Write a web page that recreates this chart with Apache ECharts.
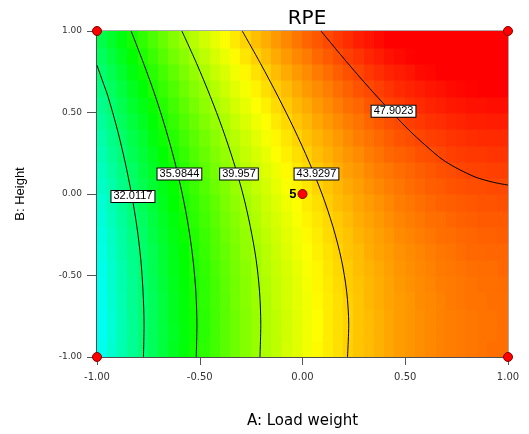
<!DOCTYPE html>
<html>
<head>
<meta charset="utf-8">
<title>RPE</title>
<script src="https://cdn.jsdelivr.net/npm/echarts@6/dist/echarts.min.js"></script>
<style>
  html, body { margin: 0; padding: 0; background: #fff; }
  #chart { width: 529px; height: 434px; }
</style>
</head>
<body>
<div id="chart"></div>
<script>
// cell centres of the response grid (coded units)
const aCells = Array.from({length: 40}, (_, i) => -0.975 + 0.05 * i);
const bCells = Array.from({length: 20}, (_, i) => -0.95 + 0.1 * i);

// RPE, one row per B cell, bottom row first
const rpeGrid = [
  [28.5,29.4,30.3,31.1,32.0,32.8,33.6,34.4,35.1,35.9,36.6,37.2,37.9,38.5,39.1,39.7,40.3,40.8,41.4,41.8,42.3,42.8,43.2,43.6,44.0,44.3,44.6,44.9,45.2,45.5,45.7,45.9,46.1,46.3,46.4,46.5,46.6,46.7,46.8,46.8],
  [28.4,29.3,30.2,31.1,31.9,32.8,33.6,34.3,35.1,35.8,36.5,37.2,37.9,38.5,39.1,39.7,40.3,40.8,41.3,41.8,42.3,42.7,43.2,43.6,43.9,44.3,44.6,44.9,45.2,45.5,45.7,45.9,46.1,46.3,46.4,46.5,46.6,46.7,46.7,46.8],
  [28.4,29.3,30.2,31.1,32.0,32.8,33.6,34.4,35.1,35.8,36.5,37.2,37.9,38.5,39.1,39.7,40.3,40.8,41.3,41.8,42.3,42.7,43.2,43.6,43.9,44.3,44.6,44.9,45.2,45.5,45.7,45.9,46.1,46.3,46.4,46.5,46.6,46.7,46.7,46.8],
  [28.5,29.4,30.3,31.2,32.0,32.8,33.6,34.4,35.1,35.9,36.6,37.3,37.9,38.6,39.2,39.8,40.3,40.9,41.4,41.9,42.3,42.8,43.2,43.6,44.0,44.3,44.7,45.0,45.3,45.5,45.7,46.0,46.1,46.3,46.5,46.6,46.7,46.7,46.8,46.8],
  [28.5,29.5,30.4,31.2,32.1,32.9,33.7,34.5,35.2,35.9,36.6,37.3,38.0,38.6,39.2,39.8,40.4,40.9,41.4,41.9,42.4,42.9,43.3,43.7,44.1,44.4,44.7,45.0,45.3,45.6,45.8,46.0,46.2,46.4,46.5,46.6,46.7,46.8,46.8,46.9],
  [28.6,29.5,30.4,31.3,32.2,33.0,33.8,34.6,35.3,36.0,36.7,37.4,38.1,38.7,39.3,39.9,40.5,41.0,41.5,42.0,42.5,42.9,43.4,43.8,44.1,44.5,44.8,45.1,45.4,45.7,45.9,46.1,46.3,46.5,46.6,46.7,46.8,46.9,46.9,47.0],
  [28.8,29.7,30.6,31.4,32.3,33.1,33.9,34.7,35.4,36.2,36.9,37.6,38.2,38.8,39.5,40.0,40.6,41.1,41.7,42.2,42.6,43.1,43.5,43.9,44.3,44.6,45.0,45.3,45.5,45.8,46.0,46.2,46.4,46.6,46.7,46.9,47.0,47.0,47.1,47.1],
  [28.9,29.8,30.7,31.6,32.4,33.3,34.1,34.8,35.6,36.3,37.0,37.7,38.4,39.0,39.6,40.2,40.8,41.3,41.8,42.3,42.8,43.2,43.7,44.1,44.4,44.8,45.1,45.4,45.7,46.0,46.2,46.4,46.6,46.8,46.9,47.0,47.1,47.2,47.2,47.3],
  [29.1,30.0,30.9,31.8,32.6,33.5,34.3,35.0,35.8,36.5,37.2,37.9,38.6,39.2,39.8,40.4,41.0,41.5,42.0,42.5,43.0,43.4,43.8,44.2,44.6,45.0,45.3,45.6,45.9,46.2,46.4,46.6,46.8,46.9,47.1,47.2,47.3,47.4,47.4,47.4],
  [29.3,30.2,31.1,32.0,32.9,33.7,34.5,35.3,36.0,36.7,37.4,38.1,38.8,39.4,40.0,40.6,41.2,41.7,42.2,42.7,43.2,43.6,44.1,44.5,44.8,45.2,45.5,45.8,46.1,46.4,46.6,46.8,47.0,47.2,47.3,47.4,47.5,47.6,47.6,47.7],
  [29.6,30.5,31.4,32.3,33.1,33.9,34.7,35.5,36.3,37.0,37.7,38.4,39.0,39.7,40.3,40.9,41.4,42.0,42.5,43.0,43.4,43.9,44.3,44.7,45.1,45.4,45.8,46.1,46.4,46.6,46.9,47.1,47.3,47.4,47.6,47.7,47.8,47.8,47.9,47.9],
  [29.9,30.8,31.7,32.5,33.4,34.2,35.0,35.8,36.5,37.3,38.0,38.7,39.3,39.9,40.6,41.1,41.7,42.2,42.8,43.3,43.7,44.2,44.6,45.0,45.4,45.7,46.1,46.4,46.6,46.9,47.1,47.3,47.5,47.7,47.8,48.0,48.1,48.1,48.2,48.2],
  [30.2,31.1,32.0,32.9,33.7,34.5,35.3,36.1,36.8,37.6,38.3,39.0,39.6,40.3,40.9,41.5,42.0,42.6,43.1,43.6,44.0,44.5,44.9,45.3,45.7,46.0,46.4,46.7,47.0,47.2,47.4,47.7,47.8,48.0,48.2,48.3,48.4,48.4,48.5,48.5],
  [30.5,31.4,32.3,33.2,34.0,34.9,35.7,36.4,37.2,37.9,38.6,39.3,40.0,40.6,41.2,41.8,42.4,42.9,43.4,43.9,44.4,44.8,45.2,45.6,46.0,46.4,46.7,47.0,47.3,47.6,47.8,48.0,48.2,48.3,48.5,48.6,48.7,48.8,48.8,48.8],
  [30.9,31.8,32.7,33.6,34.4,35.2,36.0,36.8,37.6,38.3,39.0,39.7,40.3,41.0,41.6,42.2,42.7,43.3,43.8,44.3,44.7,45.2,45.6,46.0,46.4,46.7,47.1,47.4,47.7,47.9,48.2,48.4,48.6,48.7,48.9,49.0,49.1,49.1,49.2,49.2],
  [31.3,32.2,33.1,34.0,34.8,35.6,36.4,37.2,38.0,38.7,39.4,40.1,40.7,41.4,42.0,42.6,43.1,43.7,44.2,44.7,45.1,45.6,46.0,46.4,46.8,47.1,47.5,47.8,48.1,48.3,48.6,48.8,49.0,49.1,49.3,49.4,49.5,49.5,49.6,49.6],
  [31.7,32.6,33.5,34.4,35.2,36.1,36.9,37.6,38.4,39.1,39.8,40.5,41.2,41.8,42.4,43.0,43.6,44.1,44.6,45.1,45.6,46.0,46.4,46.8,47.2,47.6,47.9,48.2,48.5,48.8,49.0,49.2,49.4,49.5,49.7,49.8,49.9,50.0,50.0,50.0],
  [32.2,33.1,34.0,34.9,35.7,36.5,37.3,38.1,38.8,39.6,40.3,41.0,41.6,42.3,42.9,43.5,44.0,44.6,45.1,45.6,46.0,46.5,46.9,47.3,47.7,48.0,48.4,48.7,49.0,49.2,49.4,49.7,49.8,50.0,50.2,50.3,50.4,50.4,50.5,50.5],
  [32.7,33.6,34.5,35.4,36.2,37.0,37.8,38.6,39.3,40.1,40.8,41.5,42.1,42.8,43.4,44.0,44.5,45.1,45.6,46.1,46.5,47.0,47.4,47.8,48.2,48.5,48.9,49.2,49.5,49.7,49.9,50.2,50.3,50.5,50.7,50.8,50.9,50.9,51.0,51.0],
  [33.2,34.1,35.0,35.9,36.7,37.5,38.3,39.1,39.9,40.6,41.3,42.0,42.6,43.3,43.9,44.5,45.0,45.6,46.1,46.6,47.1,47.5,47.9,48.3,48.7,49.1,49.4,49.7,50.0,50.2,50.5,50.7,50.9,51.0,51.2,51.3,51.4,51.5,51.5,51.5]
];

// contour levels and the traced iso-lines [A, B]
const contourLevels = ['32.0117', '35.9844', '39.957', '43.9297', '47.9023'];
const contourLines = [
  [[-1,0.79],[-0.975,0.7],[-0.947,0.6],[-0.902,0.4],[-0.864,0.2],[-0.832,0],[-0.806,-0.2],[-0.787,-0.4],[-0.776,-0.6],[-0.771,-0.8],[-0.774,-1]],
  [[-0.834,1],[-0.773,0.8],[-0.716,0.6],[-0.666,0.4],[-0.622,0.2],[-0.585,0],[-0.555,-0.2],[-0.533,-0.4],[-0.519,-0.6],[-0.514,-0.8],[-0.517,-1]],
  [[-0.587,1],[-0.515,0.8],[-0.449,0.6],[-0.389,0.4],[-0.336,0.2],[-0.29,0],[-0.254,-0.2],[-0.226,-0.4],[-0.209,-0.6],[-0.203,-0.8],[-0.207,-1]],
  [[-0.293,1],[-0.204,0.8],[-0.12,0.6],[-0.041,0.4],[0.031,0.2],[0.095,0],[0.148,-0.2],[0.189,-0.4],[0.215,-0.6],[0.225,-0.8],[0.219,-1]],
  [[0.09,1],[0.222,0.8],[0.361,0.6],[0.512,0.4],[0.597,0.3],[0.694,0.2],[0.831,0.109],[0.928,0.072],[1,0.055]]
];
const contourLabelAt = [[-0.825,-0.015],[-0.599,0.122],[-0.309,0.122],[0.068,0.122],[0.443,0.508]];

// design points, centre point has 5 runs
const designPoints = [[-1,-1],[1,-1],[-1,1],[1,1],[0,0]];
const centreRuns = ['', '', '', '', '5'];

const cellW = 0.05, cellH = 0.1;

const heatData = [];
rpeGrid.forEach((row, j) => {
  row.forEach((v, k) => heatData.push([aCells[k], bCells[j], v]));
});

const chart = echarts.init(document.getElementById('chart'));

const series = [{
  type: 'custom',
  data: heatData,
  silent: true,
  clip: true,
  z: 1,
  renderItem(params, api) {
    const a = api.value(0), b = api.value(1);
    const p0 = api.coord([a - cellW / 2, b + cellH / 2]);
    const p1 = api.coord([a + cellW / 2, b - cellH / 2]);
    const x = Math.floor(p0[0]), y = Math.floor(p0[1]);
    return {
      type: 'rect',
      shape: {x: x, y: y, width: Math.ceil(p1[0]) - x + 0.5, height: Math.ceil(p1[1]) - y + 0.5},
      style: {fill: api.visual('color')}
    };
  }
}];

contourLines.forEach(line => {
  series.push({
    type: 'line',
    data: line,
    smooth: 0.3,
    showSymbol: false,
    silent: true,
    lineStyle: {color: '#000', width: 1},
    z: 3
  });
});

series.push({
  type: 'scatter',
  data: contourLabelAt.map((p, i) => ({value: p, name: contourLevels[i]})),
  symbolSize: 0,
  silent: true,
  z: 4,
  itemStyle: {opacity: 1},
  label: {
    show: true,
    position: 'inside',
    formatter: '{b}',
    fontFamily: 'Liberation Sans',
    fontSize: 11,
    color: '#000',
    backgroundColor: '#ffffff',
    borderColor: '#000',
    borderWidth: 1,
    padding: [0, 2, 0, 2],
    opacity: 1
  }
});

series.push({
  type: 'scatter',
  data: designPoints.map((p, i) => ({value: p, name: centreRuns[i]})),
  symbolSize: 9,
  clip: false,
  silent: true,
  z: 5,
  itemStyle: {color: '#ff0000', borderColor: '#800000', borderWidth: 1, opacity: 1},
  label: {
    show: true,
    position: 'left',
    distance: 1,
    formatter: '{b}',
    fontFamily: 'Liberation Sans',
    fontWeight: 'bold',
    fontSize: 13,
    color: '#000'
  }
});

chart.setOption({
  animation: false,
  title: {
    text: 'RPE',
    left: 302,
    top: 4,
    textAlign: 'center',
    textStyle: {fontFamily: 'DejaVu Sans', fontSize: 20, fontWeight: 'normal', color: '#000'}
  },
  grid: {left: 97, right: 21, top: 31, bottom: 76, show: true, borderColor: '#555', borderWidth: 1},
  visualMap: {
    show: false,
    type: 'continuous',
    seriesIndex: 0,
    dimension: 2,
    min: 28,
    max: 50,
    inRange: {color: ['#00ffff', '#00ff00', '#ffff00', '#ff0000']}
  },
  xAxis: {
    type: 'value',
    min: -1,
    max: 1,
    interval: 0.5,
    name: 'A: Load weight',
    nameLocation: 'middle',
    nameGap: 57,
    nameTextStyle: {fontFamily: 'DejaVu Sans', fontSize: 15, color: '#000'},
    axisLine: {show: true, onZero: false, lineStyle: {color: '#333', width: 1.5}},
    axisTick: {show: true, length: 8, lineStyle: {color: '#555'}},
    axisLabel: {margin: 15, fontFamily: 'DejaVu Sans', fontSize: 10, color: '#333', formatter: v => v.toFixed(2)},
    splitLine: {show: false}
  },
  yAxis: {
    type: 'value',
    min: -1,
    max: 1,
    interval: 0.5,
    name: 'B: Height',
    nameLocation: 'middle',
    nameGap: 70,
    nameTextStyle: {fontFamily: 'Liberation Sans', fontSize: 13, color: '#000'},
    axisLine: {show: true, onZero: false, lineStyle: {color: '#333', width: 1.5}},
    axisTick: {show: true, length: 10, lineStyle: {color: '#555'}},
    axisLabel: {margin: 15, fontFamily: 'DejaVu Sans', fontSize: 9, color: '#333', formatter: v => v.toFixed(2)},
    splitLine: {show: false}
  },
  series: series
});
</script>
</body>
</html>
